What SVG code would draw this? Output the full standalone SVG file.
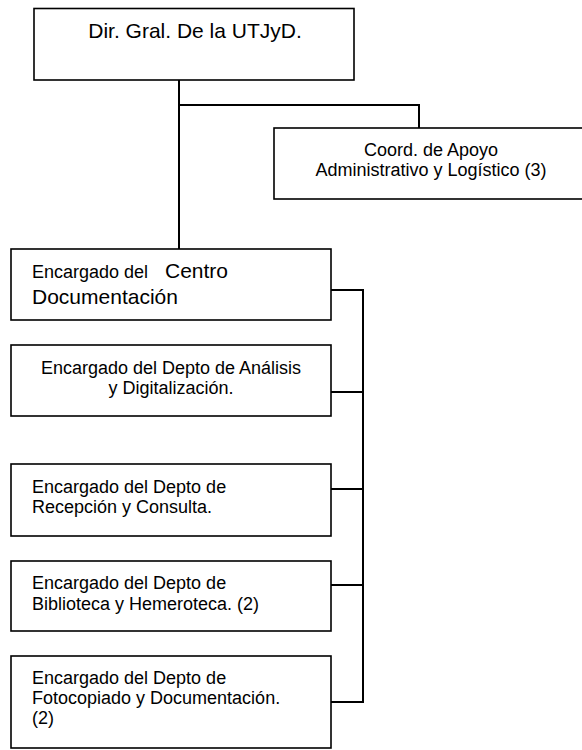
<svg xmlns="http://www.w3.org/2000/svg" width="582" height="750" viewBox="0 0 582 750">
<style>
.box{fill:#fff;stroke:#000;stroke-width:1.6}
.t{font-family:"Liberation Sans",Arial,sans-serif;font-size:18px;fill:#000}
.big{font-size:21px}
.c{text-anchor:middle}
.ln{fill:none;stroke:#000;stroke-width:2}
</style>
<rect width="582" height="750" fill="#fff"/>
<g id="connectors">
<polyline class="ln" points="179,80 179,249"/>
<polyline class="ln" points="179,105 419,105 419,128"/>
<polyline class="ln" points="331,290 363,290 363,702 331,702"/>
<line class="ln" x1="331" y1="392" x2="363" y2="392"/>
<line class="ln" x1="331" y1="489" x2="363" y2="489"/>
<line class="ln" x1="331" y1="585" x2="363" y2="585"/>
</g>
<g id="dir">
<rect class="box" x="34" y="8.5" width="320" height="71.5"/>
<text class="t big c" x="195" y="38">Dir. Gral. De la UTJyD.</text>
</g>
<g id="coord">
<rect class="box" x="274" y="128" width="320" height="71"/>
<text class="t c" x="431" y="156">Coord. de Apoyo</text>
<text class="t c" x="431" y="176">Administrativo y Logístico (3)</text>
</g>
<g id="centro">
<rect class="box" x="11" y="249" width="320" height="71"/>
<text class="t" x="32" y="278">Encargado del<tspan class="big" x="165">Centro</tspan></text>
<text class="t big" x="32" y="304">Documentación</text>
</g>
<g id="analisis">
<rect class="box" x="11" y="345" width="320" height="71"/>
<text class="t c" x="171" y="374">Encargado del Depto de Análisis</text>
<text class="t c" x="171" y="394">y Digitalización.</text>
</g>
<g id="recepcion">
<rect class="box" x="11" y="464" width="320" height="72"/>
<text class="t" x="32" y="492.5">Encargado del Depto de</text>
<text class="t" x="32" y="513">Recepción y Consulta.</text>
</g>
<g id="biblioteca">
<rect class="box" x="11" y="561" width="320" height="70"/>
<text class="t" x="32" y="588.5">Encargado del Depto de</text>
<text class="t" x="32" y="609.5">Biblioteca y Hemeroteca. (2)</text>
</g>
<g id="fotocopiado">
<rect class="box" x="11" y="656" width="320" height="92"/>
<text class="t" x="32" y="684">Encargado del Depto de</text>
<text class="t" x="32" y="704">Fotocopiado y Documentación.</text>
<text class="t" x="32" y="724">(2)</text>
</g>
</svg>
